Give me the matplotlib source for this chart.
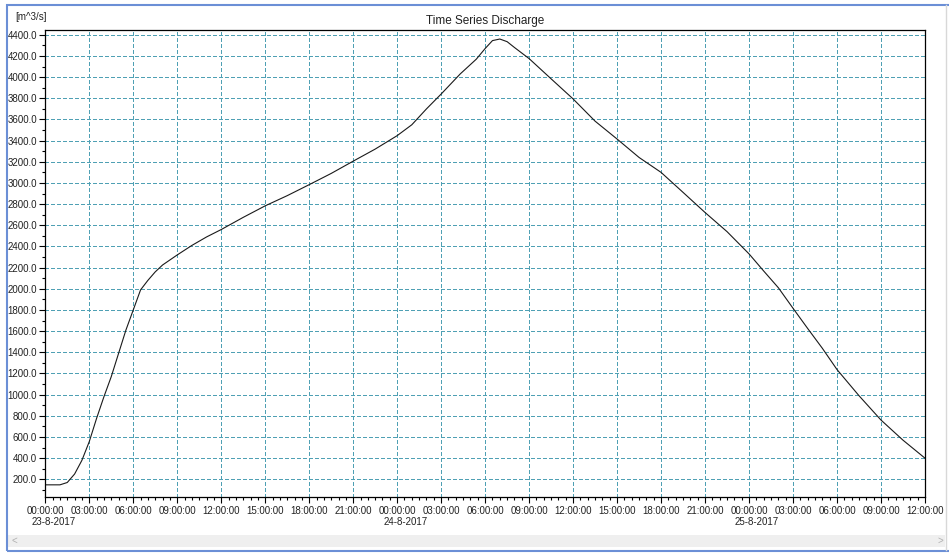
import datetime as dt
import matplotlib
matplotlib.use("Agg")
import matplotlib.pyplot as plt
import matplotlib.dates as mdates
from matplotlib.ticker import MultipleLocator, FuncFormatter
from matplotlib.patches import Rectangle
from matplotlib.lines import Line2D

plt.rcParams["font.family"] = ["Liberation Sans Narrow", "Liberation Sans", "DejaVu Sans"]

# hours after 23-8-2017 00:00 and discharge (m3/s)
hours = [0, 1, 1.5, 2, 2.5, 3, 3.5, 4, 4.5, 5, 5.5, 6, 6.5, 7, 7.5, 8, 9, 10, 11, 12,
         13.5, 15, 16.5, 18, 19.5, 21, 22.5, 24, 25, 26, 27, 28.3, 29.4, 30, 30.5,
         31, 31.5, 32, 33, 34.5, 36, 37.5, 39, 40.5, 42, 43.5, 45, 46.5, 48, 49,
         50, 51, 52, 53, 54, 55.5, 57, 58.5, 60]
discharge = [148, 148, 170, 250, 380, 556, 776, 980, 1170, 1390, 1610, 1800, 1990,
             2080, 2160, 2225, 2320, 2410, 2490, 2560, 2675, 2784, 2880, 2984, 3090,
             3206, 3320, 3447, 3550, 3700, 3840, 4030, 4170, 4270, 4345, 4360, 4335,
             4280, 4175, 3984, 3794, 3584, 3415, 3241, 3100, 2911, 2721, 2540, 2330,
             2168, 2010, 1816, 1625, 1438, 1237, 990, 760, 570, 400]
date_labels = ["23-8-2017", "24-8-2017", "25-8-2017"]

start = dt.datetime(2017, 8, 23)
times = [start + dt.timedelta(hours=h) for h in hours]

fig = plt.figure(figsize=(9.49, 5.54), dpi=100)
ax = fig.add_axes([0.0477, 0.1023, 0.9270, 0.8435])

ax.plot(times, discharge, color="#1a1a1a", lw=0.8)

ax.set_xlim(start, start + dt.timedelta(hours=60))
ax.set_ylim(30, 4445)

ax.yaxis.set_major_locator(MultipleLocator(200))
ax.yaxis.set_minor_locator(MultipleLocator(100))
ax.yaxis.set_major_formatter(FuncFormatter(lambda v, p: "%.1f" % v))

ax.xaxis.set_major_locator(mdates.HourLocator(byhour=range(0, 24, 3)))
ax.xaxis.set_minor_locator(mdates.MinuteLocator(byminute=[0, 30]))
ax.xaxis.set_major_formatter(mdates.DateFormatter("%H:%M:%S"))

# date under each midnight, left edge lined up with the time label
for i, lab in enumerate(date_labels):
    ax.annotate(lab, xy=(mdates.date2num(start + dt.timedelta(days=i)), 0),
                xycoords=("data", "axes fraction"), xytext=(-14, -20),
                textcoords="offset pixels", fontsize=7, ha="left", va="top",
                color="#222222")

ax.tick_params(axis="both", which="major", labelsize=7, length=4, width=0.8,
               pad=2, labelcolor="#222222")
ax.tick_params(axis="both", which="minor", length=2.5, width=0.8)

ax.grid(True, which="major", color="#4fa0b4", linestyle=(0, (3, 2)), lw=0.9,
        antialiased=False)
for s in ax.spines.values():
    s.set_linewidth(0.9)

ax.set_title("Time Series Discharge", fontsize=8.5, pad=4, color="#222222")
fig.text(0.049, 1 - 17 / 554, "[m^3/s]", fontsize=7, ha="right", va="center",
         color="#222222", family=["Liberation Sans", "DejaVu Sans"])

# window frame and scroll bar
fig.patches.append(Rectangle((8 / 949, 7 / 554), 937 / 949, 12 / 554,
                             transform=fig.transFigure, facecolor="#efefef",
                             edgecolor="none"))
fig.text(11 / 949, 13 / 554, "<", fontsize=7, color="#b0b0b0", va="center")
fig.text(938 / 949, 13 / 554, ">", fontsize=7, color="#b0b0b0", va="center")
fig.lines.append(Line2D([946 / 949, 946 / 949], [4 / 554, 549 / 554],
                        transform=fig.transFigure, color="#d8d8d8", lw=1))
fig.patches.append(Rectangle((7 / 949, 3 / 554), 950 / 949, 546 / 554,
                             transform=fig.transFigure, facecolor="none",
                             edgecolor="#6b8fd6", lw=1.5))

fig.savefig("out.png", dpi=100)
